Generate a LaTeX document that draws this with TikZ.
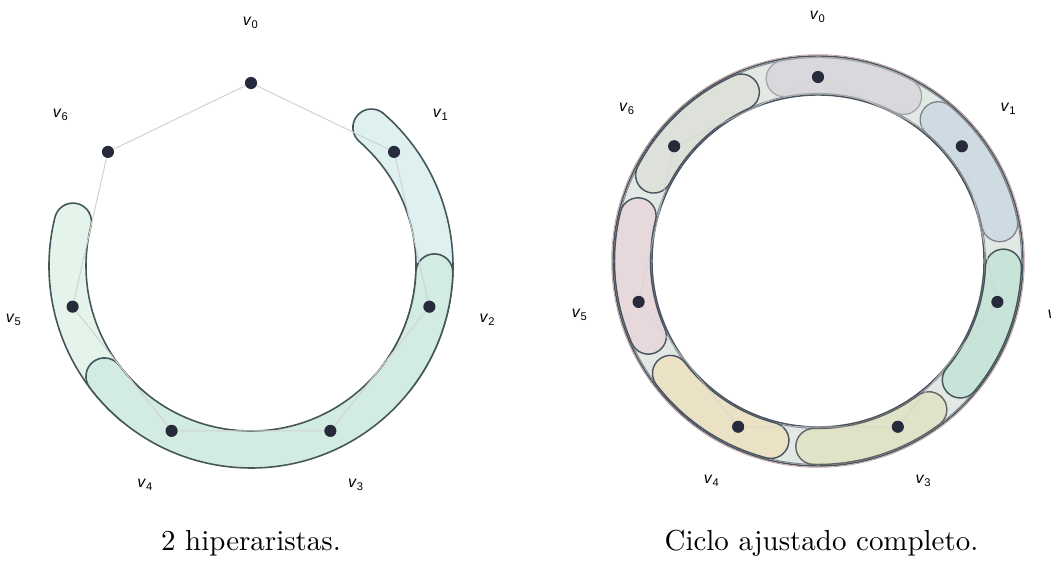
\documentclass[tikz,border=0pt]{standalone}
\usepackage{fontspec}
\setsansfont{Liberation Sans}
\usepackage{xcolor}
\usepackage{tikz}

\definecolor{dotnavy}{HTML}{272A3A}
\definecolor{edgegray}{HTML}{D2D2D2}
\definecolor{bandline}{HTML}{455659}
\definecolor{ringline}{HTML}{4B5561}
\definecolor{ringfill}{HTML}{E2E9E5}
\definecolor{hblue}{HTML}{DFF0F1}
\definecolor{hgreen}{HTML}{D2EBE3}
\definecolor{hlight}{HTML}{E5F4EA}
\definecolor{bzero}{HTML}{D9D9DD}
\definecolor{bone}{HTML}{CEDBE3}
\definecolor{btwo}{HTML}{C8E3D8}
\definecolor{bthree}{HTML}{DFE3C8}
\definecolor{bfour}{HTML}{EBE1C5}
\definecolor{bfive}{HTML}{E7D9DB}
\definecolor{bsix}{HTML}{DEE1DA}

% arc shaped hyperedge round centre #2, from angle #3 down to angle #4
\newcommand{\hyperband}[4]{%
  \path[#1] ([shift={({#3}:{\bandr+\bandw})}]#2)
    arc[start angle={#3}, end angle={#4}, radius={\bandr+\bandw}]
    arc[start angle={#4}, end angle={#4-180}, radius=\bandw]
    arc[start angle={#4}, end angle={#3}, radius={\bandr-\bandw}]
    arc[start angle={#3+180}, end angle={#3}, radius=\bandw]
    -- cycle;}

\begin{document}
\begin{tikzpicture}[x=0.3455pt,y=0.3455pt,
                    vertex/.style={circle,fill=dotnavy,inner sep=0pt,minimum size=4.2pt},
                    vlabel/.style={font=\sffamily\fontsize{5.5}{6}\selectfont},
                    cycle edge/.style={draw=edgegray,line width=0.35pt},
                    hedge/.style={draw=bandline,line width=0.55pt}]
  \useasboundingbox (0,0) rectangle (1051,565);

  \coordinate (L) at (251,299);
  \coordinate (R) at (818,304);

  % left: 2 hyperedges
  \def\bandr{183.5}\def\bandw{18.5}
  \hyperband{hedge,fill=hlight}{L}{230}{166}
  \hyperband{hedge,fill=hblue}{L}{49}{-38}
  \hyperband{hedge,fill=hgreen}{L}{-2}{-143}

  \foreach \i in {0,...,6} {
    \node[vertex] (a\i) at ([shift={({90-51.43*\i}:183)}]L) {};
    \node[vlabel] (la\i) at ([shift={({90-51.43*\i}:243)}]L) {\textit{v}\textsubscript{\i}};
  }
  \foreach \i [evaluate=\i as \j using {int(mod(\i+1,7))}] in {0,...,6}
    \path[cycle edge] (a\i) -- (a\j);

  % right: whole cycle
  \path[fill=ringfill,even odd rule] (R) circle[radius=205] (R) circle[radius=166];
  \draw[ringline,line width=0.5pt] (R) circle[radius=205] (R) circle[radius=166];
  \draw[ringline!70,line width=0.35pt] (R) circle[radius=203.5] (R) circle[radius=167.5];
  \draw[red!20!gray!60,line width=0.3pt] (R) circle[radius=206.3];

  \def\bandr{185.5}\def\bandw{18}
  \hyperband{draw=gray!70,line width=0.45pt,fill=bzero}{R}{100.5}{62.5}
  \hyperband{draw=gray!60!bone!80!black,line width=0.45pt,fill=bone}{R}{49.6}{11.6}
  \hyperband{draw=bandline,line width=0.5pt,fill=btwo}{R}{-1.9}{-39.9}
  \hyperband{draw=gray!80!black,line width=0.5pt,fill=bthree}{R}{-53.3}{-91.3}
  \hyperband{draw=ringline,line width=0.5pt,fill=bfour}{R}{-104.7}{-142.7}
  \hyperband{draw=ringline,line width=0.5pt,fill=bfive}{R}{203.9}{165.9}
  \hyperband{draw=ringline,line width=0.5pt,fill=bsix}{R}{152.4}{114.4}

  \foreach \i in {0,...,6} {
    \node[vertex] (b\i) at ([shift={({90-51.43*\i}:184)}]R) {};
    \node[vlabel] (lb\i) at ([shift={({90-51.43*\i}:244)}]R) {\textit{v}\textsubscript{\i}};
  }
  \foreach \i [evaluate=\i as \j using {int(mod(\i+1,7))}] in {0,...,6}
    \path[cycle edge,draw opacity=0.6] (b\i) -- (b\j);

  \node[anchor=base] (capa) at (251,14) {2 hiperaristas.};
  \node[anchor=base] (capb) at (821.5,14) {Ciclo ajustado completo.};
\end{tikzpicture}
\end{document}
